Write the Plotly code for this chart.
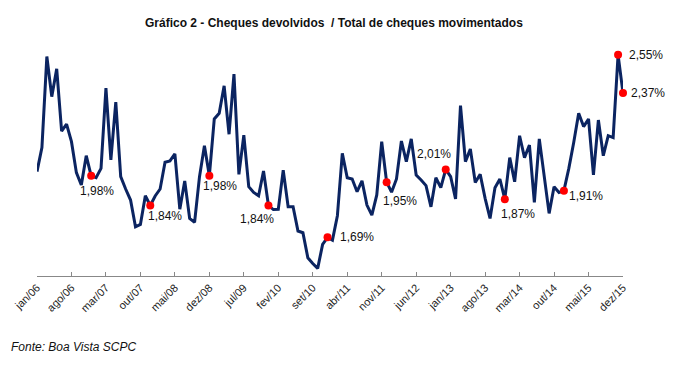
import plotly.graph_objects as go

# Monthly ratio (%) jan/06 .. dez/15
values = [
    2.000, 2.113, 2.542, 2.353, 2.484, 2.191, 2.224, 2.141, 1.995, 1.937, 2.075, 1.98,
    1.971, 2.015, 2.393, 2.055, 2.327, 1.976, 1.918, 1.866, 1.740, 1.751, 1.886, 1.84,
    1.885, 1.918, 2.044, 2.050, 2.084, 1.823, 1.956, 1.779, 1.761, 1.976, 2.122, 1.98,
    2.248, 2.275, 2.404, 2.176, 2.459, 1.987, 2.172, 1.929, 1.902, 1.886, 2.003, 1.84,
    1.821, 1.822, 2.007, 1.834, 1.834, 1.720, 1.712, 1.594, 1.567, 1.544, 1.657, 1.69,
    1.677, 1.792, 2.086, 1.971, 1.965, 1.905, 1.956, 1.842, 1.795, 1.890, 2.141, 1.95,
    1.903, 1.965, 2.144, 2.047, 2.154, 1.984, 1.960, 1.934, 1.834, 1.971, 1.924, 2.01,
    1.976, 1.871, 2.311, 2.047, 2.106, 1.949, 1.987, 1.874, 1.779, 1.924, 1.965, 1.87,
    2.066, 1.952, 2.169, 2.066, 2.125, 1.855, 2.154, 1.984, 1.803, 1.929, 1.902, 1.91,
    2.015, 2.138, 2.275, 2.212, 2.248, 1.984, 2.243, 2.075, 2.169, 2.160, 2.55, 2.37,
]
x_index = list(range(len(values)))

tick_positions = [0, 7, 14, 21, 28, 35, 42, 49, 56, 63, 70, 77, 84, 91, 98, 105, 112, 119]
tick_labels = ["jan/06", "ago/06", "mar/07", "out/07", "mai/08", "dez/08", "jul/09",
               "fev/10", "set/10", "abr/11", "nov/11", "jun/12", "jan/13", "ago/13",
               "mar/14", "out/14", "mai/15", "dez/15"]

labeled_points = [11, 23, 35, 47, 59, 71, 83, 95, 107, 118, 119]
# label offsets in pixels (style)
label_offsets = {11: (6, -15), 23: (15, -10), 35: (11, -10), 47: (-11, -13),
                 59: (29, 0), 71: (13, -19), 83: (-12, 15), 95: (13, -15),
                 107: (22, -5), 118: (28, 0), 119: (25, 0)}

fig = go.Figure()
fig.add_trace(go.Scatter(x=x_index, y=values, mode="lines",
                         line=dict(color="#0b2461", width=3), cliponaxis=False,
                         hoverinfo="skip"))
fig.add_trace(go.Scatter(x=labeled_points, y=[values[i] for i in labeled_points],
                         mode="markers", marker=dict(color="#ff0000", size=8),
                         cliponaxis=False, hoverinfo="skip"))

annotations = []
for i in labeled_points:
    dx, dy = label_offsets[i]
    annotations.append(dict(x=i, y=values[i], xref="x", yref="y",
                            text=f"{values[i]:.2f}%".replace(".", ","),
                            showarrow=False, xanchor="center", yanchor="middle",
                            xshift=dx, yshift=dy,
                            font=dict(family="Liberation Sans, Arial", size=12, color="#111")))

annotations.append(dict(x=0.507, y=1.072, xref="paper", yref="paper",
                        text="<b>Gráfico 2 - Cheques devolvidos  / Total de cheques movimentados</b>",
                        showarrow=False, xanchor="center", yanchor="middle",
                        font=dict(family="Liberation Sans, Arial", size=12, color="#111")))
annotations.append(dict(x=-0.0478, y=-0.30, xref="paper", yref="paper",
                        text="<i>Fonte: Boa Vista SCPC</i>",
                        showarrow=False, xanchor="left", yanchor="middle",
                        font=dict(family="Liberation Sans, Arial", size=12, color="#111")))

fig.update_layout(
    width=684, height=366,
    margin=dict(l=37, r=61, t=40, b=90, autoexpand=False),
    paper_bgcolor="white", plot_bgcolor="white",
    showlegend=False,
    annotations=annotations,
    xaxis=dict(range=[0, 119], tickmode="array", tickvals=tick_positions,
               ticktext=tick_labels, tickangle=-45, ticks="inside", ticklen=4,
               tickcolor="#888", showline=True, linecolor="#888", linewidth=1,
               showgrid=False, zeroline=False, automargin=False,
               tickfont=dict(family="Liberation Sans, Arial", size=11, color="#222")),
    yaxis=dict(range=[1.508, 2.62], visible=False, showgrid=False, zeroline=False),
)

fig.write_html("out.html", config={"displayModeBar": False, "staticPlot": True},
               post_script="document.body.style.margin='0';document.body.style.overflow='hidden';")
